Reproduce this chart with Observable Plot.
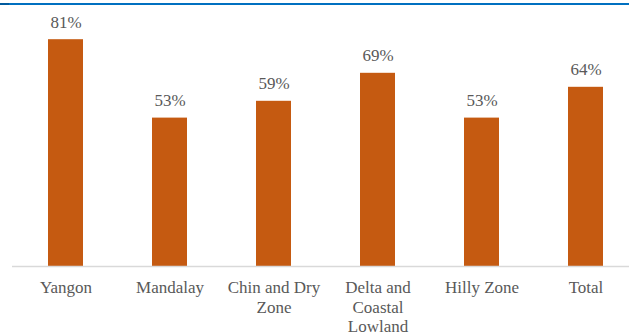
<!DOCTYPE html>
<html>
<head>
<meta charset="utf-8">
<script src="https://cdn.jsdelivr.net/npm/d3@7"></script>
<script src="https://cdn.jsdelivr.net/npm/@observablehq/plot@0.6"></script>
<style>
  html, body { margin: 0; padding: 0; background: #fff; overflow: hidden; }
  #wrap { position: relative; width: 629px; height: 335px; }
  #topline { position: absolute; left: 0; top: 3px; width: 629px; height: 2px; background: #0070C0; }
  #topline2 { position: absolute; left: 0; top: 3px; width: 9px; height: 2px; background: #005A9E; }
</style>
</head>
<body>
<div id="wrap"><div id="topline"></div><div id="topline2"></div></div>
<script>
const regions = ["Yangon", "Mandalay", "Chin and Dry Zone", "Delta and Coastal Lowland", "Hilly Zone", "Total"];
const shares = [81, 53, 59, 69, 53, 64];
const tickLabels = ["Yangon", "Mandalay", "Chin and Dry\nZone", "Delta and\nCoastal\nLowland", "Hilly Zone", "Total"];

const data = regions.map((r, i) => ({region: r, value: shares[i], label: tickLabels[i]}));
const labelOf = new Map(data.map(d => [d.region, d.label]));
const serif = "Liberation Serif";

const chart = Plot.plot({
  width: 629,
  height: 335,
  marginTop: 0,
  marginBottom: 69,
  marginLeft: 12,
  marginRight: 0,
  style: {fontSize: "17px", fontFamily: "'Liberation Serif', serif", color: "#595959", background: "transparent"},
  x: {domain: regions, range: [12, 638], paddingInner: 0.665, paddingOuter: 0.3325, label: null},
  y: {domain: [0, 95], axis: null},
  marks: [
    Plot.barY(data, {x: "region", y: "value", fill: "#C55A11"}),
    Plot.ruleY([0], {stroke: "#D9D9D9", strokeWidth: 1.5}),
    Plot.text(data, {x: "region", y: "value", text: d => d.value + "%", dy: -12, lineAnchor: "bottom", fill: "#595959", fontSize: 17, fontFamily: serif}),
    Plot.axisX({tickSize: 0, tickPadding: 13, tickFormat: d => labelOf.get(d), lineHeight: 1.15, fill: "#595959", fontSize: 17, fontFamily: serif, label: null})
  ]
});
d3.select(chart).selectAll("g, text, tspan").style("font-family", "'Liberation Serif', serif");
document.getElementById("wrap").appendChild(chart);
chart.style.position = "absolute";
chart.style.left = "0";
chart.style.top = "0";
</script>
</body>
</html>
